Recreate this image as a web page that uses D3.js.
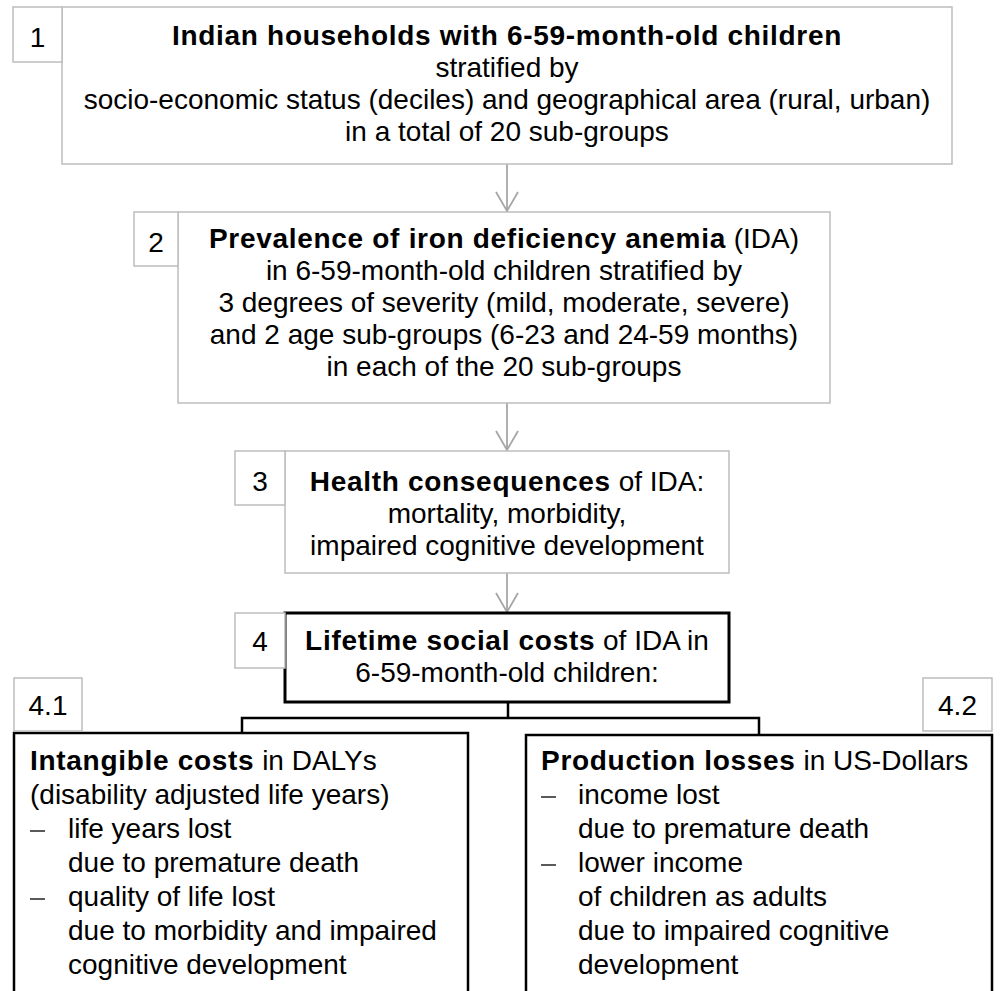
<!DOCTYPE html>
<html>
<head>
<meta charset="utf-8">
<script src="https://cdn.jsdelivr.net/npm/d3@7"></script>
<style>
  html, body { margin: 0; padding: 0; background: #fff; }
  svg { display: block; }
</style>
</head>
<body>
<script>
// ---- content ----
const stepNumbers = ["1", "2", "3", "4", "4.1", "4.2"];
const box1Lines = [
  "**Indian households with 6-59-month-old children**",
  "stratified by",
  "socio-economic status (deciles) and geographical area (rural, urban)",
  "in a total of 20 sub-groups"
];
const box2Lines = [
  "**Prevalence of iron deficiency anemia** (IDA)",
  "in 6-59-month-old children stratified by",
  "3 degrees of severity (mild, moderate, severe)",
  "and 2 age sub-groups (6-23 and 24-59 months)",
  "in each of the 20 sub-groups"
];
const box3Lines = [
  "**Health consequences** of IDA:",
  "mortality, morbidity,",
  "impaired cognitive development"
];
const box4Lines = [
  "**Lifetime social costs** of IDA in",
  "6-59-month-old children:"
];
const box41Lines = [
  {dash: false, text: "**Intangible costs** in DALYs"},
  {dash: false, text: "(disability adjusted life years)"},
  {dash: true,  text: "life years lost"},
  {dash: false, indent: true, text: "due to premature death"},
  {dash: true,  text: "quality of life lost"},
  {dash: false, indent: true, text: "due to morbidity and impaired"},
  {dash: false, indent: true, text: "cognitive development"}
];
const box42Lines = [
  {dash: false, text: "**Production losses** in US-Dollars"},
  {dash: true,  text: "income lost"},
  {dash: false, indent: true, text: "due to premature death"},
  {dash: true,  text: "lower income"},
  {dash: false, indent: true, text: "of children as adults"},
  {dash: false, indent: true, text: "due to impaired cognitive"},
  {dash: false, indent: true, text: "development"}
];

// ---- layout (positions/styles) ----
const W = 1000, H = 991;
const FONT = "'Liberation Sans', Arial, sans-serif";
const FS = 28;
const GRAY = "#bdbdbd";
const ARROW = "#a6a6a6";

const svg = d3.select("body").append("svg")
  .attr("width", W).attr("height", H)
  .attr("viewBox", `0 0 ${W} ${H}`);

function parseSegments(s) {
  const parts = s.split("**");
  return parts.map((t, i) => ({t, bold: i % 2 === 1})).filter(d => d.t.length);
}

function addLine(g, x, y, str, anchor) {
  const t = g.append("text")
    .attr("x", x).attr("y", y)
    .attr("text-anchor", anchor)
    .attr("font-family", FONT)
    .attr("font-size", FS)
    .attr("fill", "#000");
  t.selectAll("tspan").data(parseSegments(str)).join("tspan")
    .attr("font-weight", d => d.bold ? "bold" : "normal")
    .attr("letter-spacing", d => d.bold ? 0.7 : 0)
    .text(d => d.t);
  return t;
}

function rect(x0, y0, x1, y1, stroke, sw) {
  svg.append("rect")
    .attr("x", x0).attr("y", y0)
    .attr("width", x1 - x0).attr("height", y1 - y0)
    .attr("fill", "#fff")
    .attr("stroke", stroke).attr("stroke-width", sw);
}

function numBox(label, x0, y0, x1, y1, baseline) {
  rect(x0, y0, x1, y1, GRAY, 1.5);
  svg.append("text")
    .attr("x", (x0 + x1) / 2).attr("y", baseline)
    .attr("text-anchor", "middle")
    .attr("font-family", FONT).attr("font-size", FS)
    .attr("fill", "#000")
    .text(label);
}

function centeredBox(lines, x0, y0, x1, y1, firstBaseline, step, stroke, sw) {
  rect(x0, y0, x1, y1, stroke, sw);
  const g = svg.append("g");
  const cx = (x0 + x1) / 2;
  lines.forEach((l, i) => addLine(g, cx, firstBaseline + i * step, l, "middle"));
}

function listBox(lines, x0, y0, x1, y1, textX, indentX, firstBaseline, step) {
  rect(x0, y0, x1, y1, "#000", 2.5);
  const g = svg.append("g");
  lines.forEach((l, i) => {
    const y = firstBaseline + i * step;
    if (l.dash) {
      g.append("line")
        .attr("x1", textX).attr("x2", textX + 15)
        .attr("y1", y - 7).attr("y2", y - 7)
        .attr("stroke", "#000").attr("stroke-width", 1.3);
      addLine(g, indentX, y, l.text, "start");
    } else {
      addLine(g, l.indent ? indentX : textX, y, l.text, "start");
    }
  });
}

function arrow(x, y0, y1) {
  svg.append("line").attr("x1", x).attr("x2", x).attr("y1", y0).attr("y2", y1)
    .attr("stroke", ARROW).attr("stroke-width", 1.8);
  svg.append("path")
    .attr("d", d3.line()([[x - 11, y1 - 20], [x, y1 - 1], [x + 11, y1 - 20]]))
    .attr("fill", "none").attr("stroke", ARROW).attr("stroke-width", 1.8);
}

// arrows
arrow(507, 164, 212);
arrow(507, 403, 451);
arrow(507, 573, 613);

// box 1
centeredBox(box1Lines, 62, 7, 952, 164, 45, 32, GRAY, 1.5);
numBox(stepNumbers[0], 13, 7, 62, 62, 47);
// box 2
centeredBox(box2Lines, 178, 212, 830, 403, 248, 32, GRAY, 1.5);
numBox(stepNumbers[1], 134, 212, 178, 266, 252);
// box 3
centeredBox(box3Lines, 285, 451, 729, 573, 491, 32, GRAY, 1.5);
numBox(stepNumbers[2], 235, 451, 285, 505, 491);
// box 4
centeredBox(box4Lines, 285, 613, 729, 702, 650, 32, "#000", 3);
numBox(stepNumbers[3], 235, 613, 285, 668, 651);

// connector
svg.append("path")
  .attr("d", d3.line()([[508, 702], [508, 718]]))
  .attr("fill", "none").attr("stroke", "#000").attr("stroke-width", 2.5);
svg.append("path")
  .attr("d", d3.line()([[242, 734], [242, 718], [759, 718], [759, 736]]))
  .attr("fill", "none").attr("stroke", "#000").attr("stroke-width", 2.5);

// bottom boxes
listBox(box41Lines, 14, 733, 468, 1010, 30, 68, 770, 34);
listBox(box42Lines, 526, 735, 992, 1010, 541, 578, 770, 34);
numBox(stepNumbers[4], 14, 678, 82, 731, 715);
numBox(stepNumbers[5], 923, 678, 992, 731, 715);
</script>
</body>
</html>
